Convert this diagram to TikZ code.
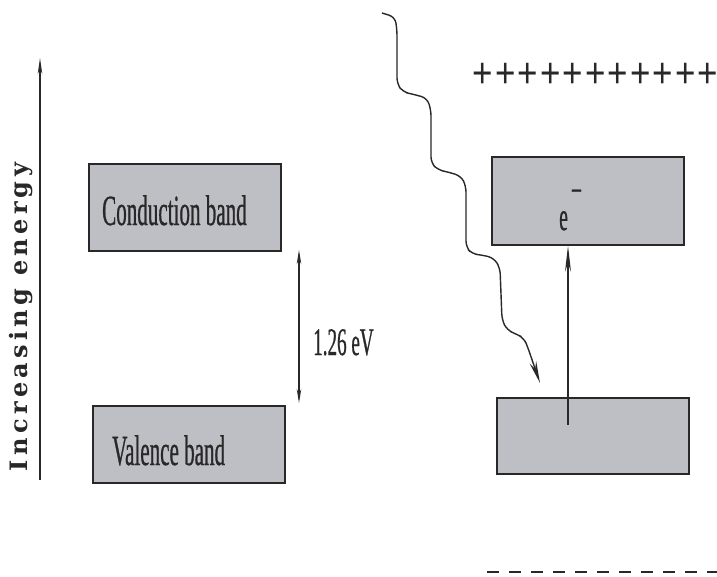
\documentclass[tikz,border=0pt]{standalone}
\usepackage{fontspec}
\usepackage{graphicx}
\usetikzlibrary{arrows.meta}
\newfontfamily\condfont[FakeStretch=0.49,FakeBold=0.6]{Liberation Serif}
\newfontfamily\axisfont[LetterSpace=18]{DejaVu Serif}
\newfontfamily\plusfont{Liberation Sans}
\definecolor{bandgray}{RGB}{190,190,197}
\definecolor{ink}{RGB}{40,40,40}
\tikzset{
  bandbox/.style={draw=ink, line width=1.8pt, fill=bandgray, inner sep=0pt, anchor=north west},
  bandtext/.style={font=\condfont\fontsize{43}{43}\selectfont, text=ink, inner sep=0pt, anchor=base west},
  thinarrow/.style={draw=ink, line width=1.1pt, -{Stealth[length=16pt,width=4.5pt]}},
  gaparrow/.style={draw=ink, line width=1.1pt, {Stealth[length=14pt,width=4.5pt]}-{Stealth[length=14pt,width=4.5pt]}},
  photon/.style={draw=ink, line width=1.4pt, rounded corners=6pt,
    -{Stealth[length=22pt,width=7pt]}},
  plussign/.style={font=\plusfont\fontsize{35}{35}\selectfont, text=ink, inner sep=0pt},
  chargeline/.style={draw=ink, line width=2.2pt, dash pattern=on 12pt off 10pt}
}
\begin{document}
\begin{tikzpicture}[x=1pt,y=-1pt]
\useasboundingbox (0,0) rectangle (717,576);
% energy axis
\coordinate (axbot) at (40,480);
\coordinate (axtop) at (40,58);
\draw[thinarrow] (axbot) -- (axtop);
\node[rotate=90, font=\axisfont\bfseries\fontsize{24}{24}\selectfont, text=ink, inner sep=0pt] (axlabel) at (21,317) {Increasing energy};
% left bands
\node[bandbox, minimum width=192pt, minimum height=87pt] (cbL) at (88,163) {};
\node[bandtext] (cbLtext) at (102,225) {Conduction band};
\node[bandbox, minimum width=192pt, minimum height=77pt] (vbL) at (92,405) {};
\node[bandtext] (vbLtext) at (112,465) {Valence band};
% gap
\coordinate (gaptop) at (299,250);
\coordinate (gapbot) at (299,403);
\draw[gaparrow] (gaptop) -- (gapbot);
\node[bandtext, font=\condfont\fontsize{39}{39}\selectfont] (gaptext) at (313,355) {1.26 eV};
% right bands
\node[bandbox, minimum width=192pt, minimum height=88pt] (cbR) at (491,156) {};
\node[bandbox, minimum width=192pt, minimum height=76pt] (vbR) at (496,397) {};
\node[bandtext, font=\condfont\fontsize{40}{40}\selectfont] (elec) at (559,230) {e\kern3pt\raisebox{26pt}{\char"2212}};
% excitation arrow
\coordinate (exstart) at (568,425);
\draw[draw=ink, line width=1.1pt, -{Stealth[length=26pt,width=6pt]}] (exstart) -- (exstart |- cbR.south);
% photon
\coordinate (phstart) at (382,13);
\coordinate (phend) at (540,383);
\draw[photon] (phstart) -- (395,17) -- (397,30) -- (397,84) -- (403,92) -- (412,94) -- (427,98) -- (431,110) -- (431,163) -- (438,170) -- (448,172) -- (461,176) -- (466,186) -- (466,247) -- (472,254) -- (482,255) -- (494,258) -- (500,268) -- (502,320) -- (507,330) -- (516,334) -- (524,338) -- (528,348) -- (phend);
% charges
\foreach \i in {0,...,10}{
  \node[plussign] (plus\i) at (483+22.5*\i,75) {\scalebox{1}[1.2]{+}};
}
\coordinate (negL) at (487,572);
\coordinate (negR) at (717,572);
\draw[chargeline] (negL) -- (negR);
\end{tikzpicture}
\end{document}
